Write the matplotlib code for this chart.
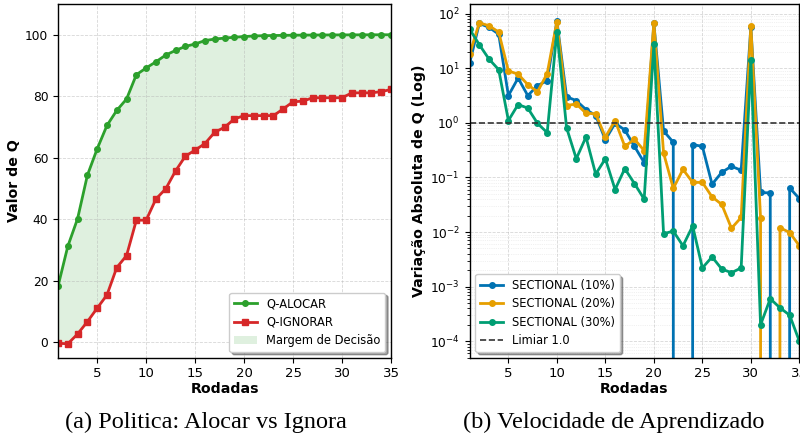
import numpy as np
import matplotlib
matplotlib.use('Agg')
import matplotlib.pyplot as plt

# ---------------------------------------------------------------------------
# Data
# ---------------------------------------------------------------------------

rodadas = np.arange(1, 36)

q_alocar = [18.2, 31.2, 40.2, 54.3, 62.9, 70.5, 75.4, 79.1, 87.0, 89.2,
            91.2, 93.4, 94.9, 96.2, 97.0, 98.1, 98.6, 98.9, 99.2, 99.4,
            99.6, 99.7, 99.75, 99.8, 99.85, 99.88, 99.9, 99.92, 99.94, 99.95,
            99.96, 99.97, 99.98, 99.99, 100.0]
q_ignorar = [-0.3, -0.5, 2.7, 6.7, 11.1, 15.4, 24.3, 28.2, 39.7, 39.7,
             46.6, 49.9, 55.7, 60.5, 62.5, 64.6, 68.3, 69.9, 72.6, 73.7,
             73.7, 73.7, 73.7, 75.9, 78.2, 78.4, 79.5, 79.5, 79.5, 79.5,
             81.1, 81.1, 81.1, 81.5, 82.2]

# absolute variation of Q per round (0 = no change, drawn off the log axis)
sect_10 = [12.3, 66, 56, 42, 3.15, 6.6, 3.15, 4.8, 5.9, 73,
           3.0, 2.55, 1.75, 1.36, 0.49, 0.98, 0.74, 0.37, 0.187, 66,
           0.71, 0.44, 0.0, 0.40, 0.37, 0.075, 0.124, 0.16, 0.135, 57,
           0.053, 0.052, 0.0, 0.064, 0.041]
sect_20 = [18, 68, 60, 46, 8.9, 7.8, 5.0, 3.7, 8.0, 71,
           2.07, 2.22, 1.5, 1.46, 0.55, 1.1, 0.37, 0.50, 0.31, 68,
           0.28, 0.063, 0.14, 0.081, 0.081, 0.044, 0.032, 0.0117, 0.0185, 60,
           0.018, 0.0, 0.012, 0.0098, 0.0056]
sect_30 = [52, 27, 14.7, 9.4, 1.1, 2.16, 1.86, 0.98, 0.66, 47,
           0.81, 0.22, 0.55, 0.115, 0.22, 0.06, 0.145, 0.077, 0.040, 27.6,
           0.0093, 0.0104, 0.0056, 0.0129, 0.0022, 0.0035, 0.0021, 0.0018, 0.0022, 14.3,
           0.0002, 0.0006, 0.00041, 0.0003, 0.0001]
limiar = 1.0

# ---------------------------------------------------------------------------
# Style
# ---------------------------------------------------------------------------

C_ALOCAR = '#2ca02c'
C_IGNORAR = '#d62728'
C_10 = '#0072B2'
C_20 = '#E69F00'
C_30 = '#009E73'

plt.rcParams.update({
    'font.family': 'DejaVu Sans',
    'xtick.labelsize': 9.5,
    'ytick.labelsize': 8.8,
    'axes.labelsize': 10.2,
    'axes.labelweight': 'bold',
    'axes.linewidth': 1.0,
})

LEG = dict(fontsize=8.3, shadow=True, framealpha=1, labelspacing=0.48)

fig = plt.figure(figsize=(8, 4.43), dpi=100)
ax1 = fig.add_axes([0.0725, 0.1926, 0.41625, 0.7984])
ax2 = fig.add_axes([0.587, 0.1926, 0.4122, 0.7984])

# ---------------------------------------------------------------------------
# (a) policy
# ---------------------------------------------------------------------------

ax1.plot(rodadas, q_alocar, color=C_ALOCAR, marker='o', ms=4, lw=2,
         label='Q-ALOCAR')
ax1.plot(rodadas, q_ignorar, color=C_IGNORAR, marker='s', ms=4, lw=2,
         label='Q-IGNORAR')
ax1.fill_between(rodadas, q_ignorar, q_alocar, color=C_ALOCAR, alpha=0.15,
                 lw=0, label='Margem de Decisão')
ax1.set_xlim(1, 35)
ax1.set_ylim(-5, 110)
ax1.set_xticks([5, 10, 15, 20, 25, 30, 35])
ax1.set_yticks([0, 20, 40, 60, 80, 100])
ax1.set_xlabel('Rodadas', labelpad=1)
ax1.set_ylabel('Valor de Q', labelpad=3)
ax1.grid(True, ls='--', lw=0.6, alpha=0.5)
ax1.legend(loc='lower right', **LEG)

# ---------------------------------------------------------------------------
# (b) learning speed
# ---------------------------------------------------------------------------

ax2.plot(rodadas, sect_10, color=C_10, marker='o', ms=4, lw=2,
         label='SECTIONAL (10%)')
ax2.plot(rodadas, sect_20, color=C_20, marker='o', ms=4, lw=2,
         label='SECTIONAL (20%)')
ax2.plot(rodadas, sect_30, color=C_30, marker='o', ms=4, lw=2,
         label='SECTIONAL (30%)')
ax2.axhline(limiar, color='#333333', ls='--', lw=1.2, label='Limiar 1.0')
ax2.set_yscale('log')
ax2.set_xlim(1, 35)
ax2.set_ylim(5e-5, 150)
ax2.set_xticks([5, 10, 15, 20, 25, 30, 35])
ax2.set_xlabel('Rodadas', labelpad=1)
ax2.set_ylabel('Variação Absoluta de Q (Log)', labelpad=3)
ax2.grid(True, which='major', ls='--', lw=0.6, alpha=0.5)
ax2.grid(True, which='minor', ls=':', lw=0.5, alpha=0.35)
ax2.legend(loc='lower left', **LEG)

# ---------------------------------------------------------------------------
# Captions
# ---------------------------------------------------------------------------

fig.text(0.2575, 0.034, '(a) Politica: Alocar vs Ignora', ha='center',
         va='baseline', family='Liberation Serif', fontsize=17.5)
fig.text(0.767, 0.034, '(b) Velocidade de Aprendizado', ha='center',
         va='baseline', family='Liberation Serif', fontsize=17.5)

fig.savefig('out.png', dpi=100)
